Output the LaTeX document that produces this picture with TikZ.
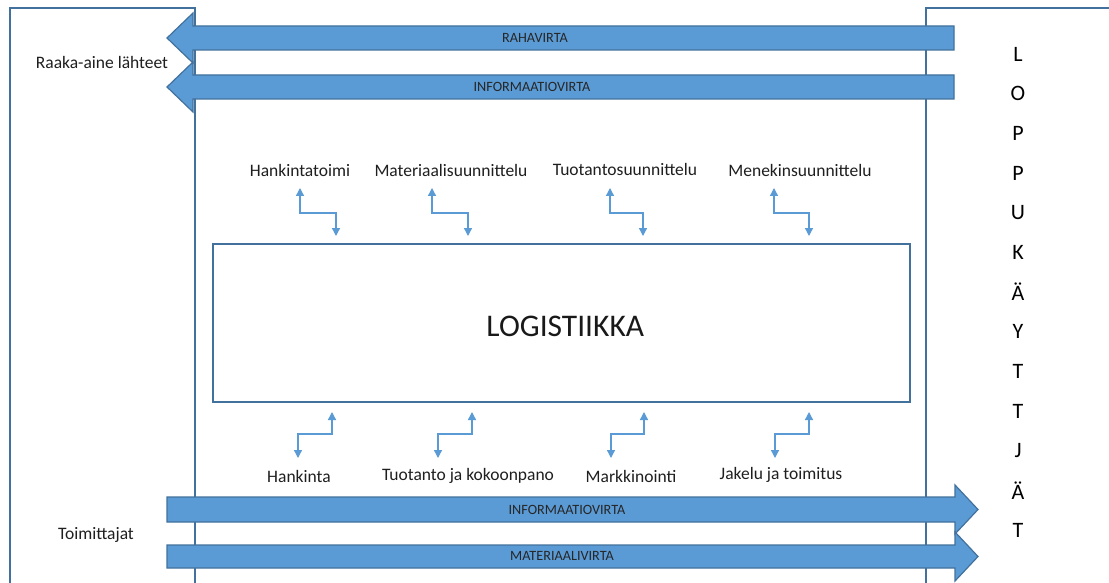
\documentclass[tikz,border=0pt]{standalone}
\usepackage{fontspec}
\setmainfont{Carlito}
\usetikzlibrary{arrows.meta}
\definecolor{flowfill}{HTML}{5B9BD5}
\definecolor{flowline}{HTML}{41719C}
\definecolor{framecol}{HTML}{41719C}
\begin{document}
\begin{tikzpicture}[x=1pt,y=-1pt,
  frame/.style={draw=framecol,line width=1.6pt},
  flow/.style={fill=flowfill,draw=flowline,line width=1.2pt,line join=miter},
  flowlabel/.style={font=\fontsize{14.2}{16}\selectfont,text=black!85,inner sep=0pt},
  lbl/.style={font=\fontsize{17.5}{20}\selectfont,text=black!88,inner sep=0pt},
  letter/.style={font=\fontsize{22}{24}\selectfont,inner sep=0pt},
  conn/.style={draw=flowfill,line width=1.3pt,{Triangle[width=8pt,length=8pt]}-{Triangle[width=8pt,length=8pt]}}]
\useasboundingbox (0,0) rectangle (1109,583);
\clip (0,0) rectangle (1109,583);
\fill[white] (0,0) rectangle (1109,583);

% side frames
\draw[frame] (10,590) -- (10,8) -- (195,8) -- (195,590);
\draw[frame] (926,590) -- (926,8) -- (1120,8);

% central box
\node[frame,minimum width=697pt,minimum height=158pt,anchor=north west,inner sep=0pt] (log) at (212,243) {};
\node[font=\fontsize{31.5}{34}\selectfont,text=black!90] (logt) at ([xshift=4pt,yshift=-4pt]log.center) {LOGISTIIKKA};

% big flow arrows (left pointing)
\draw[flow] (954,26) -- (193,26) -- (193,13) -- (167,38) -- (193,63) -- (193,50) -- (954,50) -- cycle;
\draw[flow] (954,75) -- (193,75) -- (193,62) -- (167,87) -- (193,112) -- (193,99) -- (954,99) -- cycle;
% big flow arrows (right pointing)
\draw[flow] (167,497) -- (955,497) -- (955,485) -- (978,509.5) -- (955,534) -- (955,522) -- (167,522) -- cycle;
\draw[flow] (167,545) -- (955,545) -- (955,532) -- (978,556.5) -- (955,581) -- (955,568) -- (167,568) -- cycle;

\node[flowlabel] (raha) at (535,38) {RAHAVIRTA};
\node[flowlabel] (info1) at (532,87) {INFORMAATIOVIRTA};
\node[flowlabel] (info2) at (567,510) {INFORMAATIOVIRTA};
\node[flowlabel] (mat) at (562,556) {MATERIAALIVIRTA};

% side labels
\node[lbl] (raaka) at (102,62) {Raaka-aine lähteet};
\node[lbl] (toim) at (96,535) {Toimittajat};

% planning functions above
\node[lbl] (t1) at (300,170) {Hankintatoimi};
\node[lbl] (t2) at (451,170) {Materiaalisuunnittelu};
\node[lbl] (t3) at (625,169) {Tuotantosuunnittelu};
\node[lbl] (t4) at (800,170) {Menekinsuunnittelu};

% operational functions below
\node[lbl] (b1) at (299,476) {Hankinta};
\node[lbl] (b2) at (468,476) {Tuotanto ja kokoonpano};
\node[lbl] (b3) at (631,476) {Markkinointi};
\node[lbl] (b4) at (781,475) {Jakelu ja toimitus};

% elbow connectors above the box
\foreach \u/\d/\n in {300/336/1, 432/468/2, 610/643/3, 774/809/4}{
  \coordinate (tu\n) at (\u,188);
  \coordinate (td\n) at (\d,236);
  \draw[conn] (tu\n) -- (\u,213) -| (td\n);
}
% elbow connectors below the box
\foreach \u/\d/\n in {332/298/1, 472/438/2, 644/611/3, 809/775/4}{
  \coordinate (bu\n) at (\u,412);
  \coordinate (bd\n) at (\d,458);
  \draw[conn] (bu\n) -- (\u,434) -| (bd\n);
}

% vertical word on the right
\foreach \ch [count=\i from 0] in {L,O,P,P,U,K,Ä,Y,T,T,J,Ä,T}{
  \node[letter] (c\i) at (1018,{54+39.67*\i}) {\ch};
}
\end{tikzpicture}
\end{document}
